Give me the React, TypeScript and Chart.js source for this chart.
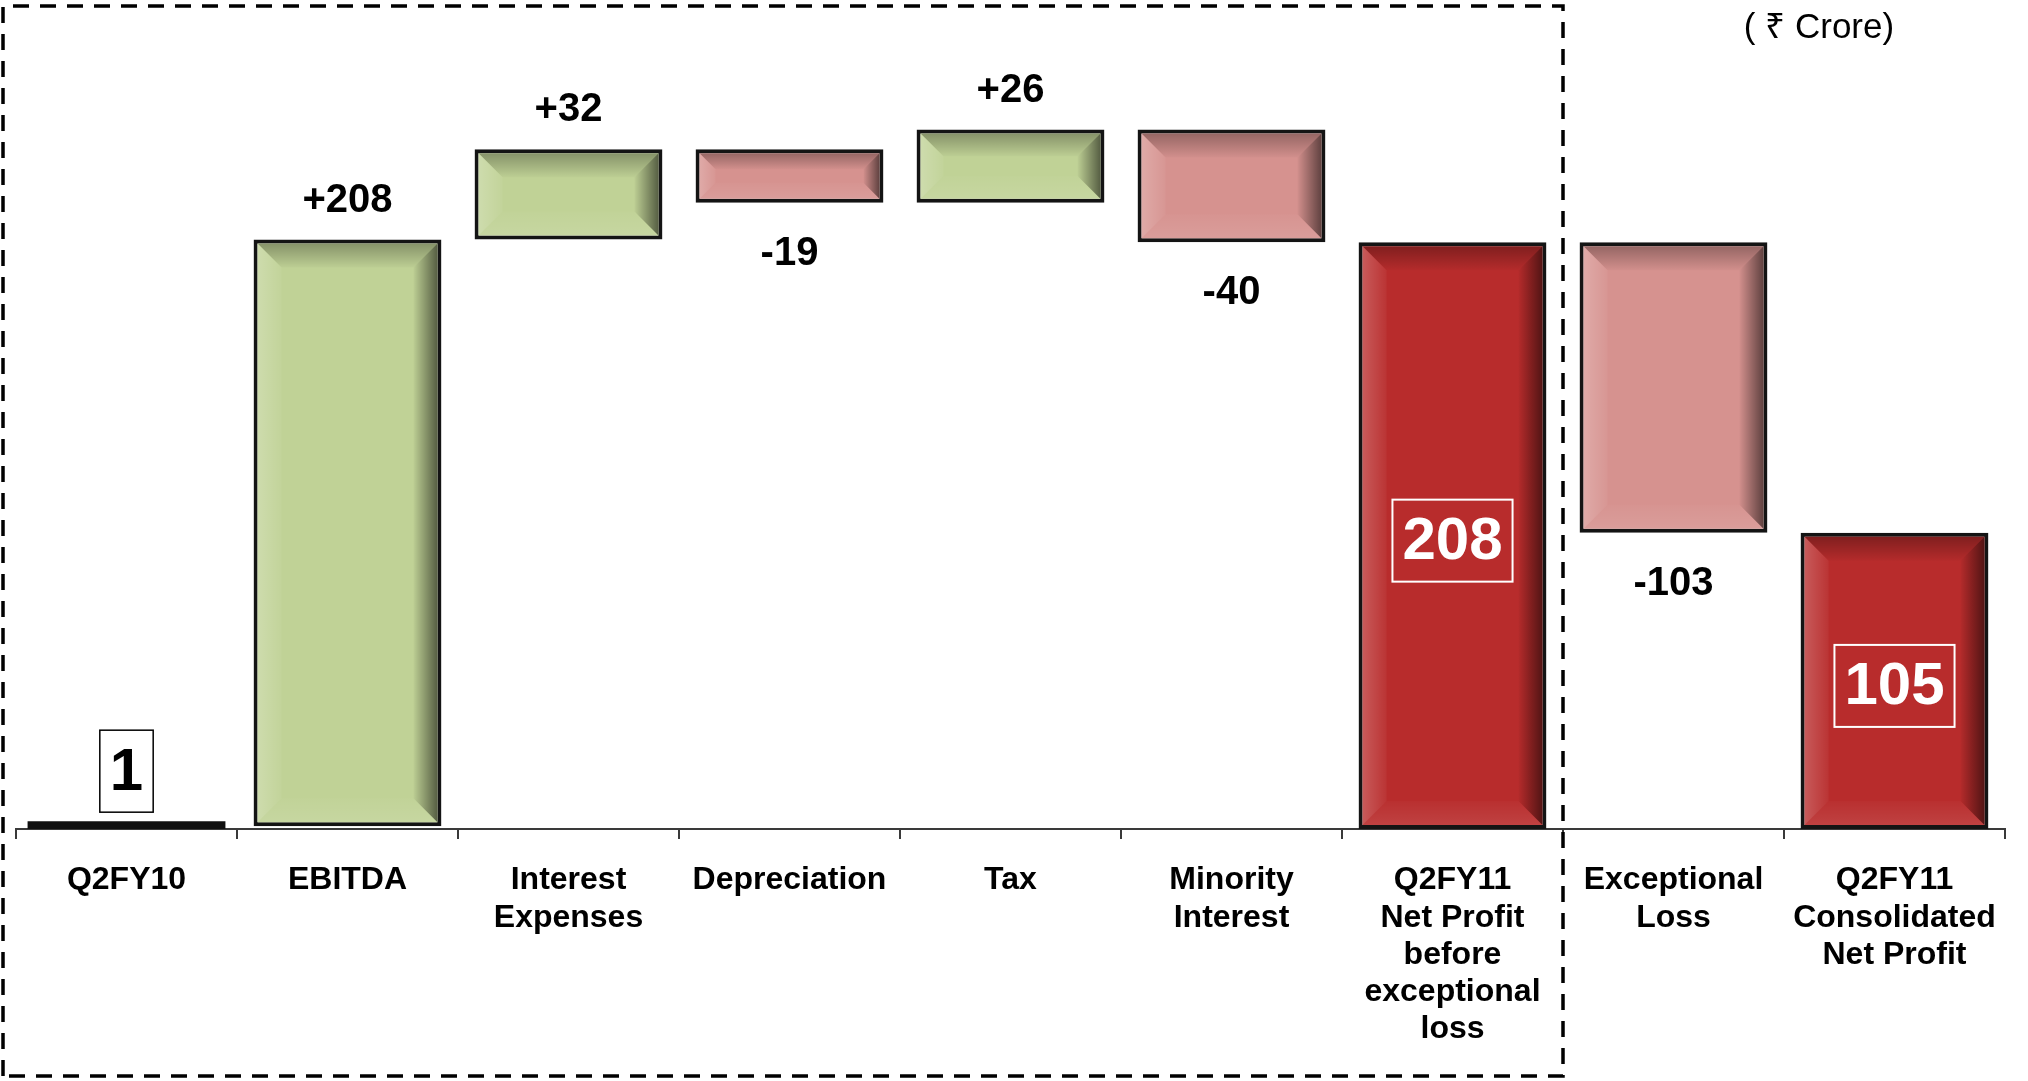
import React, { useEffect, useRef } from "react";
import { Chart, registerables } from "chart.js";

Chart.register(...registerables);

// ---- data ----
const categories: string[][] = [
  ["Q2FY10"],
  ["EBITDA"],
  ["Interest", "Expenses"],
  ["Depreciation"],
  ["Tax"],
  ["Minority", "Interest"],
  ["Q2FY11", "Net Profit", "before", "exceptional", "loss"],
  ["Exceptional", "Loss"],
  ["Q2FY11", "Consolidated", "Net Profit"],
];
const stepValues: number[] = [1, 208, 32, -19, 26, -40, 208, -103, 105];
const stepKinds: string[] = ["total", "delta", "delta", "delta", "delta", "delta", "total", "delta", "total"];
const unitLabel = "( ₹ Crore)";
const yMin = 0;
const yMax = 290;
// index of the last category inside the dashed frame
const frameLastIndex = 6;

// ---- styles ----
const GREEN = "#C0D296";
const PINK = "#D6928F";
const RED = "#B82C2C";
const BLACK = "#101010";
const BORDER = "#141414";
const FONT = "'Liberation Sans', Arial, Helvetica, sans-serif";

function buildRanges(): [number, number][] {
  let running = 0;
  return stepValues.map((v, i) => {
    if (stepKinds[i] === "total") {
      running = v;
      return [0, v] as [number, number];
    }
    const start = running;
    running += v;
    return [start, running] as [number, number];
  });
}

function barColor(i: number): string {
  if (stepKinds[i] === "total") return i === 0 ? BLACK : RED;
  return stepValues[i] >= 0 ? GREEN : PINK;
}

function poly(ctx: CanvasRenderingContext2D, pts: number[][], fill: any) {
  ctx.beginPath();
  ctx.moveTo(pts[0][0], pts[0][1]);
  for (let k = 1; k < pts.length; k++) ctx.lineTo(pts[k][0], pts[k][1]);
  ctx.closePath();
  ctx.fillStyle = fill;
  ctx.fill();
}

function drawBevel(ctx: CanvasRenderingContext2D, l: number, t: number, r: number, b: number, size: number) {
  const s = Math.max(2, Math.min(size, (r - l) / 2, (b - t) * 0.35));
  let g = ctx.createLinearGradient(0, t, 0, t + s);
  g.addColorStop(0, "rgba(0,0,0,0.30)");
  g.addColorStop(1, "rgba(0,0,0,0.02)");
  poly(ctx, [[l, t], [r, t], [r - s, t + s], [l + s, t + s]], g);

  g = ctx.createLinearGradient(r - s, 0, r, 0);
  g.addColorStop(0, "rgba(0,0,0,0.02)");
  g.addColorStop(1, "rgba(0,0,0,0.55)");
  poly(ctx, [[r, t], [r, b], [r - s, b - s], [r - s, t + s]], g);

  g = ctx.createLinearGradient(l, 0, l + s, 0);
  g.addColorStop(0, "rgba(255,255,255,0.22)");
  g.addColorStop(1, "rgba(255,255,255,0.04)");
  poly(ctx, [[l, t], [l + s, t + s], [l + s, b - s], [l, b]], g);

  g = ctx.createLinearGradient(0, b - s, 0, b);
  g.addColorStop(0, "rgba(255,255,255,0.02)");
  g.addColorStop(1, "rgba(255,255,255,0.10)");
  poly(ctx, [[l, b], [l + s, b - s], [r - s, b - s], [r, b]], g);
}

const waterfallDecor = {
  id: "waterfallDecor",
  afterDatasetsDraw(chart: any) {
    const ctx: CanvasRenderingContext2D = chart.ctx;
    const meta = chart.getDatasetMeta(0);
    const bw = 4;
    ctx.save();
    meta.data.forEach((bar: any, i: number) => {
      const { x, y, base, width } = bar.getProps(["x", "y", "base", "width"], true);
      const top = Math.min(y, base);
      const bottom = Math.max(y, base);
      const left = x - width / 2;
      const right = x + width / 2;
      if (i !== 0) {
        drawBevel(ctx, left + bw, top + bw, right - bw, bottom - bw, 24);
      }
    });

    meta.data.forEach((bar: any, i: number) => {
      const { x, y, base } = bar.getProps(["x", "y", "base", "width"], true);
      const top = Math.min(y, base);
      const bottom = Math.max(y, base);
      const v = stepValues[i];
      if (stepKinds[i] === "total") {
        const txt = String(v);
        ctx.font = `bold 60px ${FONT}`;
        const tw = ctx.measureText(txt).width;
        const bwid = tw + 20;
        const bh = 82;
        const cy = i === 0 ? top - 55 : (top + bottom) / 2 + 5;
        const col = i === 0 ? "#000" : "#fff";
        ctx.strokeStyle = col;
        ctx.lineWidth = i === 0 ? 1.5 : 2;
        ctx.strokeRect(x - bwid / 2, cy - bh / 2, bwid, bh);
        ctx.fillStyle = col;
        ctx.textAlign = "center";
        ctx.textBaseline = "middle";
        ctx.fillText(txt, x, cy + 2);
      } else {
        const txt = (v > 0 ? "+" : "") + String(v);
        ctx.font = `bold 40px ${FONT}`;
        ctx.fillStyle = "#000";
        ctx.textAlign = "center";
        ctx.textBaseline = "middle";
        const cy = v >= 0 ? top - 39 : bottom + 51;
        ctx.fillText(txt, x, cy);
      }
    });
    ctx.restore();
  },
  afterDraw(chart: any) {
    const ctx: CanvasRenderingContext2D = chart.ctx;
    const xs = chart.scales.x;
    const frameRight = (xs.getPixelForValue(frameLastIndex) + xs.getPixelForValue(frameLastIndex + 1)) / 2;
    ctx.save();
    ctx.strokeStyle = "#000";
    ctx.lineWidth = 3.5;
    ctx.setLineDash([16, 11]);
    ctx.beginPath();
    ctx.moveTo(3, 1076);
    ctx.lineTo(3, 6);
    ctx.lineTo(frameRight, 6);
    ctx.lineTo(frameRight, 1076);
    ctx.lineTo(3, 1076);
    ctx.stroke();
    ctx.setLineDash([]);
    ctx.font = `35px ${FONT}`;
    ctx.fillStyle = "#000";
    ctx.textAlign = "center";
    ctx.textBaseline = "middle";
    ctx.fillText(unitLabel, 1819, 28);
    ctx.restore();
  },
};

export default function App() {
  const ref = useRef<HTMLCanvasElement | null>(null);
  useEffect(() => {
    if (!ref.current) return;
    const ranges = buildRanges();
    const chart = new Chart(ref.current, {
      type: "bar",
      data: {
        labels: categories,
        datasets: [
          {
            data: ranges as any,
            backgroundColor: stepValues.map((_, i) => barColor(i)),
            borderColor: BORDER,
            borderWidth: stepValues.map((_, i) => (i === 0 ? 0 : 4)),
            borderSkipped: false,
            inflateAmount: stepValues.map((_, i) => (i === 0 ? 5 : 0)) as any,
            barPercentage: 0.85,
            categoryPercentage: 1,
          },
        ],
      },
      options: {
        responsive: false,
        animation: false,
        devicePixelRatio: 1,
        layout: { padding: { top: 11, left: 16, right: 23, bottom: 0 } },
        plugins: {
          legend: { display: false },
          tooltip: { enabled: false },
          title: { display: false },
        },
        scales: {
          x: {
            offset: true,
            grid: {
              display: true,
              drawOnChartArea: false,
              drawTicks: true,
              tickLength: 10,
              color: "#3a3a3a",
              lineWidth: 2,
              offset: true,
            },
            border: { display: true, color: "#3a3a3a", width: 2 },
            ticks: {
              color: "#000",
              padding: 23,
              maxRotation: 0,
              autoSkip: false,
              font: { family: FONT, size: 32, weight: "bold", lineHeight: 1.16 },
            },
            afterFit: (scale: any) => {
              scale.height = 252;
            },
          },
          y: {
            display: false,
            min: yMin,
            max: yMax,
          },
        },
      },
      plugins: [waterfallDecor],
    } as any);
    return () => chart.destroy();
  }, []);
  return (
    <div style={{ position: "fixed", left: 0, top: 0, width: 2028, height: 1081, background: "#fff" }}>
      <canvas ref={ref} width={2028} height={1081} style={{ display: "block" }} />
    </div>
  );
}
